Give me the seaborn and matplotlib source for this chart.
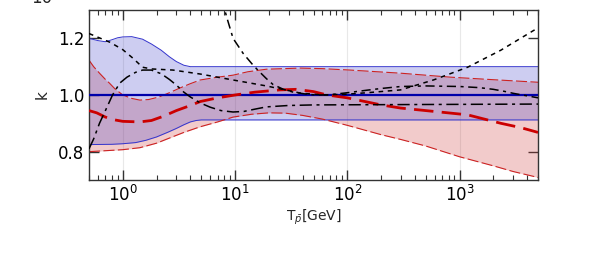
import numpy as np
import pandas as pd
import matplotlib
matplotlib.use("Agg")
import matplotlib.pyplot as plt
import seaborn as sns

# ---------------- data ----------------
# blue band (edges solid)
T_bu = [0.5, 0.6, 0.7, 0.8, 0.9, 1.0, 1.2, 1.5, 1.8, 2.2, 2.6, 3.0, 3.5, 4.0, 5.0, 5000]
blue_upper = [1.20, 1.192, 1.188, 1.195, 1.202, 1.205, 1.206, 1.197, 1.18, 1.158, 1.135, 1.118, 1.105, 1.10, 1.10, 1.10]
T_bl = [0.5, 0.8, 1.0, 1.3, 1.6, 2.0, 2.5, 3.0, 3.5, 4.0, 4.5, 5.0, 5000]
blue_lower = [0.825, 0.826, 0.828, 0.832, 0.84, 0.852, 0.868, 0.882, 0.895, 0.905, 0.91, 0.912, 0.912]
T_bc = [0.5, 5000]
blue_center = [1.0, 1.0]

# red band (edges dashed)
T_ru = [0.5, 0.55, 0.62, 0.7, 0.76, 0.85, 1.0, 1.2, 1.42, 1.7, 2.1, 2.6, 3.2, 4.0, 4.9, 7, 9.6, 13, 19, 38, 60, 106, 298, 828, 2000, 5000]
red_upper = [1.123, 1.10, 1.077, 1.055, 1.042, 1.022, 1.0, 0.988, 0.982, 0.984, 0.993, 1.008, 1.024, 1.04, 1.053, 1.063, 1.07, 1.082, 1.091, 1.095, 1.093, 1.088, 1.077, 1.063, 1.054, 1.045]
T_rl = [0.5, 1.0, 1.42, 2.0, 2.8, 3.5, 4.9, 7, 9.6, 14, 20, 28, 40, 60, 100, 200, 300, 500, 1000, 2000, 3000, 5000]
red_lower = [0.80, 0.807, 0.814, 0.83, 0.853, 0.868, 0.888, 0.905, 0.922, 0.932, 0.937, 0.936, 0.928, 0.915, 0.893, 0.86, 0.843, 0.82, 0.782, 0.75, 0.73, 0.709]
T_rc = [0.5, 0.586, 0.7, 0.85, 1.0, 1.42, 1.8, 2.3, 3.0, 4.0, 4.9, 7, 10, 15, 25, 35, 50, 66, 100, 200, 298, 500, 1180, 2340, 3500, 5000]
red_center = [0.945, 0.937, 0.922, 0.912, 0.907, 0.905, 0.91, 0.925, 0.945, 0.963, 0.977, 0.99, 1.0, 1.01, 1.018, 1.02, 1.012, 1.0, 0.99, 0.965, 0.954, 0.945, 0.93, 0.90, 0.885, 0.868]

# black curves
T_sd = [0.5, 0.77, 1.0, 1.23, 1.5, 1.8, 2.8, 4.9, 9.6, 19, 38, 60, 100, 150, 298, 585, 1180, 2330, 4580, 5000]
short_dash = [1.217, 1.186, 1.16, 1.13, 1.098, 1.092, 1.088, 1.074, 1.053, 1.032, 1.007, 1.0, 1.003, 1.008, 1.018, 1.053, 1.098, 1.158, 1.228, 1.235]

T_dd = [0.5, 0.55, 0.62, 0.7, 0.81, 0.94, 1.09, 1.3, 1.5, 1.8, 2.2, 2.6, 3.0, 3.5, 4.0, 4.9, 6, 7.5, 9.6, 12, 15, 19, 30, 50, 5000]
dash_dot = [0.81, 0.845, 0.90, 0.945, 1.0, 1.042, 1.063, 1.08, 1.088, 1.088, 1.075, 1.055, 1.035, 1.01, 0.993, 0.972, 0.957, 0.945, 0.94, 0.942, 0.95, 0.958, 0.963, 0.965, 0.968]

T_st = [7.5, 8.1, 8.5, 9.6, 11.8, 14.5, 16.7, 19, 21.8, 27, 33, 45, 54, 70, 100, 150, 200, 300, 500, 1000, 1500, 2000, 2500, 3000, 4000, 5000]
steep = [1.36, 1.30, 1.27, 1.20, 1.147, 1.105, 1.08, 1.058, 1.037, 1.02, 1.01, 1.002, 1.0, 1.001, 1.008, 1.017, 1.023, 1.03, 1.032, 1.03, 1.026, 1.02, 1.013, 1.006, 0.997, 0.99]

# ---------------- figure ----------------
sns.set_style("ticks")
plt.rcParams['font.family'] = ['DejaVu Sans']
plt.rcParams['mathtext.fontset'] = 'dejavusans'

fig = plt.figure(figsize=(5.98, 2.70), dpi=100)
ax = fig.add_axes([89/598, 90/270, (538-89)/598, 170/270])
ax.set_xscale('log')

red_c = '#cc3333'
blue_c = '#3a3ac8'

# bands: evaluate each edge on the union of its read positions (log-x)
def band(Tlo, lo, Thi, hi):
    grid = np.array(sorted(set(Tlo) | set(Thi)))
    lg = np.log10(grid)
    return grid, np.interp(lg, np.log10(Tlo), lo), np.interp(lg, np.log10(Thi), hi)

g, lo, hi = band(T_rl, red_lower, T_ru, red_upper)
ax.fill_between(g, lo, hi, color=red_c, alpha=0.25, lw=0, zorder=1)
g, lo, hi = band(T_bl, blue_lower, T_bu, blue_upper)
ax.fill_between(g, lo, hi, color=blue_c, alpha=0.25, lw=0, zorder=1)

def line(xs, ys, **kw):
    d = pd.DataFrame({'T': xs, 'k': ys})
    sns.lineplot(data=d, x='T', y='k', ax=ax, errorbar=None, **kw)

line(T_bu, blue_upper, color='#3333cc', lw=0.7, zorder=2)
line(T_bl, blue_lower, color='#3333cc', lw=0.7, zorder=2)
line(T_ru, red_upper, color='#cc2222', lw=0.8, linestyle=(0, (10, 3)), zorder=2)
line(T_rl, red_lower, color='#cc2222', lw=0.8, linestyle=(0, (10, 3)), zorder=2)

line(T_bc, blue_center, color='#0000aa', lw=1.6, zorder=3)
line(T_rc, red_center, color='#cc0000', lw=2.0, linestyle=(0, (7, 3)), zorder=4)

line(T_sd, short_dash, color='black', lw=1.1, linestyle=(0, (3, 3)), zorder=5)
line(T_dd, dash_dot, color='black', lw=1.1, linestyle=(0, (8, 3, 2, 3)), zorder=5)
line(T_st, steep, color='black', lw=1.1, linestyle=(0, (6, 3, 2, 3)), zorder=5)

ax.set_xlim(0.5, 5000)
ax.set_ylim(0.7, 1.3)
ax.set_yticks([0.8, 1.0, 1.2])
ax.set_yticklabels(['0.8', '1.0', '1.2'])

ax.grid(True, which='major', axis='x', color='#e8e8e8', lw=0.8, zorder=0)
ax.set_axisbelow(True)

for s in ax.spines.values():
    s.set_color('#333333')
    s.set_linewidth(1.0)
    s.set_visible(True)

ax.tick_params(which='both', direction='in', top=True, right=True, colors='#333333', labelcolor='black')
ax.tick_params(which='major', length=7, width=1.0, labelsize=12)
ax.tick_params(which='minor', length=3.5, width=0.8)
ax.tick_params(axis='y', which='minor', left=False, right=False)

ax.set_xlabel(r'T$_{\bar{p}}$[GeV]', fontsize=10, labelpad=2)
ax.set_ylabel('k', fontsize=11, labelpad=6)

fig.text(42/598, 1 - 3/270, '10', ha='center', va='baseline', fontsize=12)

fig.savefig('out.png', dpi=100)
